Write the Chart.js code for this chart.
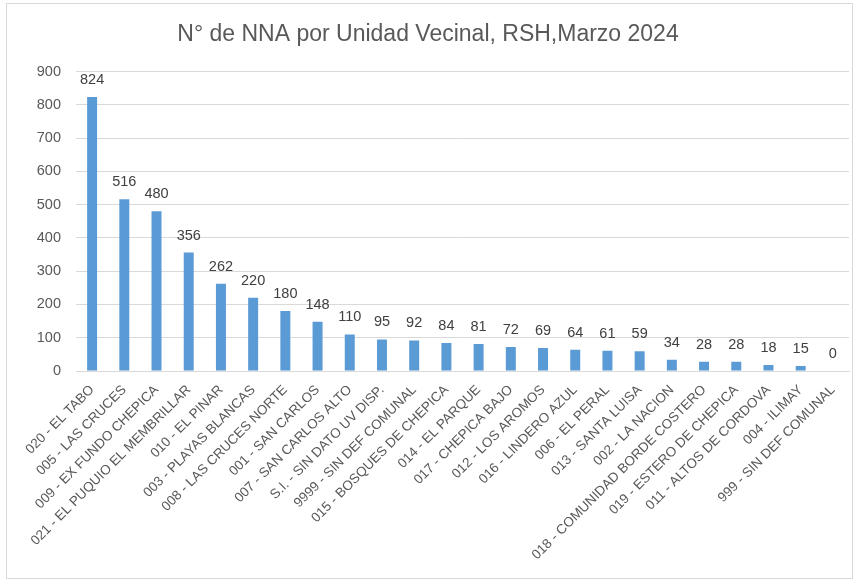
<!DOCTYPE html>
<html>
<head>
<meta charset="utf-8">
<script src="https://cdn.jsdelivr.net/npm/chart.js@4"></script>
<style>
  body { margin: 0; background: #fff; }
  .box { position: absolute; left: 6px; top: 3px; width: 845px; height: 574px; border: 1px solid #d9d9d9; }
</style>
</head>
<body>
<div class="box"><canvas id="myChart"></canvas></div>
<script>
var labels = ["020 - EL TABO", "005 - LAS CRUCES", "009 - EX FUNDO CHEPICA", "021 - EL PUQUIO EL MEMBRILLAR",
  "010 - EL PINAR", "003 - PLAYAS BLANCAS", "008 - LAS CRUCES NORTE", "001 - SAN CARLOS",
  "007 - SAN CARLOS ALTO", "S.I. - SIN DATO UV DISP.", "9999 - SIN DEF COMUNAL", "015 - BOSQUES DE CHEPICA",
  "014 - EL PARQUE", "017 - CHEPICA BAJO", "012 - LOS AROMOS", "016 - LINDERO AZUL",
  "006 - EL PERAL", "013 - SANTA LUISA", "002 - LA NACION", "018 - COMUNIDAD BORDE COSTERO",
  "019 - ESTERO DE CHEPICA", "011 - ALTOS DE CORDOVA", "004 - ILIMAY", "999 - SIN DEF COMUNAL"]
var values = [824, 516, 480, 356, 262, 220, 180, 148, 110, 95, 92, 84, 81, 72, 69, 64, 61, 59, 34, 28, 28, 18, 15, 0]
var yTicks = [0, 100, 200, 300, 400, 500, 600, 700, 800, 900]

// etiquetas de valor encima de cada barra
const valueLabels = {
  id: "valueLabels",
  afterDatasetsDraw(chart) {
    const ctx = chart.ctx
    const meta = chart.getDatasetMeta(0)
    ctx.save()
    ctx.font = "14.5px 'Liberation Sans'"
    ctx.fillStyle = "#404040"
    ctx.textAlign = "center"
    ctx.textBaseline = "middle"
    meta.data.forEach((bar, i) => {
      ctx.fillText(values[i], bar.x, bar.y - 17)
    })
    ctx.restore()
  }
}

Chart.defaults.font.family = "'Liberation Sans', sans-serif"
Chart.defaults.color = "#595959"

new Chart(document.getElementById("myChart"), {
  type: "bar",
  data: {
    labels: labels,
    datasets: [{
      label: "NNA",
      data: values,
      backgroundColor: "#5B9BD5",
      barPercentage: 0.62,
      categoryPercentage: 0.5
    }]
  },
  options: {
    responsive: true,
    maintainAspectRatio: false,
    animation: false,
    layout: { padding: { left: 0, right: 3, top: 0, bottom: 0 } },
    plugins: {
      legend: { display: false },
      tooltip: { enabled: false },
      title: {
        display: true,
        text: "N° de NNA por Unidad Vecinal, RSH,Marzo 2024",
        font: { size: 23, weight: "normal" },
        color: "#595959",
        padding: { top: 17, bottom: 23 }
      }
    },
    scales: {
      x: {
        grid: { display: false },
        border: { color: "#d9d9d9" },
        ticks: { minRotation: 45, maxRotation: 45, autoSkip: false, font: { size: 13.5 }, color: "#595959" },
        afterFit: function (scale) { scale.height = 207 }
      },
      y: {
        min: 0,
        max: 900,
        border: { display: false },
        grid: { color: "#d9d9d9", drawTicks: false },
        afterBuildTicks: function (scale) { scale.ticks = yTicks.map(v => ({ value: v })) },
        ticks: { font: { size: 14.5 }, color: "#595959", padding: 15 },
        afterFit: function (scale) { scale.width = 69 }
      }
    }
  },
  plugins: [valueLabels]
})
</script>
</body>
</html>
